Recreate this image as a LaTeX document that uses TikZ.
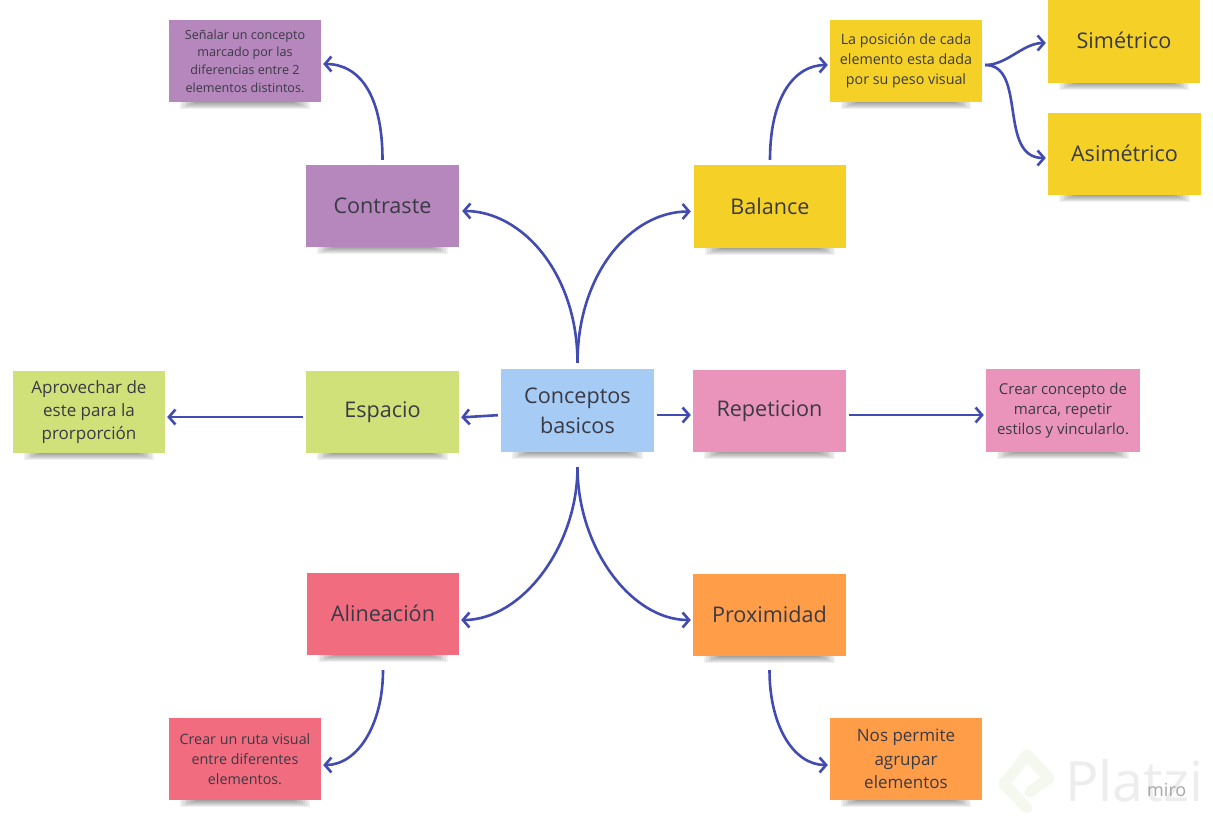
\documentclass[tikz,border=0pt]{standalone}
\usepackage{fontspec}
\setmainfont{Open Sans}
\usetikzlibrary{arrows.meta}
\definecolor{cpurple}{HTML}{B587BC}
\definecolor{cyellow}{HTML}{F5D128}
\definecolor{cgreen}{HTML}{D0E17A}
\definecolor{cblue}{HTML}{A6CCF6}
\definecolor{cpink}{HTML}{EA94BB}
\definecolor{cred}{HTML}{F16C7F}
\definecolor{corange}{HTML}{FF9D48}
\definecolor{cline}{HTML}{414BB2}
\definecolor{ctext}{HTML}{3A3A45}
\definecolor{cmark}{HTML}{F5F8EE}
\tikzset{
  sticky/.style={inner sep=0pt,text=ctext,align=center},
  big/.style={font=\fontsize{21.6}{29}\selectfont},
  mid/.style={font=\fontsize{17}{23}\selectfont},
  smalla/.style={font=\fontsize{12.6}{17.6}\selectfont},
  smallb/.style={font=\fontsize{14.3}{19.8}\selectfont},
  smallc/.style={font=\fontsize{15}{20}\selectfont},
  conn/.style={draw=cline,line width=2.6pt,-{Straight Barb[length=6.5pt,width=15pt,line width=2.6pt]},shorten >=2pt,shorten <=5pt},
}
% name, x0, y0, x1, y1, colour, size style, text
\newcommand{\stickynote}[8]{%
  \foreach \i in {1,...,8}{%
    \fill[black,opacity=0.06] ({#2+8+2.6*\i},#5) rectangle ({#4-8-2.6*\i},{#5+8-\i});
  }%
  \node[sticky,#7,fill=#6,minimum width={(#4-#2)*1pt},minimum height={(#5-#3)*1pt}] (#1) at ({(#2+#4)/2},{(#3+#5)/2}) {#8};
}
\begin{document}
\begin{tikzpicture}[x=1pt,y=-1pt]
\useasboundingbox (0,0) rectangle (1213,824);
\fill[white] (0,0) rectangle (1213,824);
% watermark
\draw[color=cmark,line width=11pt,line cap=round,line join=round]
  (1027,808) -- (1004,784) -- (1027,755) -- (1049,778) -- (1030,792);
\node[text=black!7,font=\fontsize{55.5}{55.5}\selectfont,anchor=base west,inner sep=0pt] (platzi) at (1065,801) {Platzi};
\node[text=black!35,font=\fontsize{18}{18}\selectfont,anchor=base west,inner sep=0pt] (miro) at (1147,796) {miro};
% notes
\stickynote{center}{501}{369}{654}{452}{cblue}{big}{\raisebox{1pt}{Conceptos}\\basicos}
\stickynote{contraste}{306}{165}{459}{247}{cpurple}{big}{Contraste}
\stickynote{balance}{694}{165}{846}{248}{cyellow}{big}{\raisebox{1pt}{Balance}}
\stickynote{espacio}{306}{371}{459}{453}{cgreen}{big}{Espacio}
\stickynote{repeticion}{693}{370}{846}{452}{cpink}{big}{\raisebox{-1pt}{Repeticion}}
\stickynote{alineacion}{307}{573}{459}{655}{cred}{big}{\raisebox{1pt}{Alineación}}
\stickynote{proximidad}{693}{574}{846}{656}{corange}{big}{\raisebox{1pt}{Proximidad}}
\stickynote{senalar}{169}{20}{321}{102}{cpurple}{smalla}{Señalar un concepto\\marcado por las\\diferencias entre 2\\elementos distintos.}
\stickynote{posicion}{830}{20}{982}{102}{cyellow}{smallb}{La posición de cada\\elemento esta dada\\por su peso visual}
\stickynote{simetrico}{1048}{-1}{1200}{83}{cyellow}{big}{\raisebox{1pt}{Simétrico}}
\stickynote{asimetrico}{1048}{113}{1201}{195}{cyellow}{big}{\raisebox{2pt}{Asimétrico}}
\stickynote{aprovechar}{13}{371}{165}{453}{cgreen}{mid}{Aprovechar de\\este para la\\prorporción}
\stickynote{crearconcepto}{986}{369}{1140}{452}{cpink}{smallc}{Crear concepto de\\marca, repetir\\estilos y vincularlo.}
\stickynote{crearruta}{169}{718}{321}{800}{cred}{smallb}{Crear un ruta visual\\entre diferentes\\elementos.}
\stickynote{permite}{830}{718}{982}{800}{corange}{mid}{\raisebox{1pt}{Nos permite}\\agrupar\\elementos}
% connectors (yshift is in canvas terms: negative moves down the picture)
\draw[conn,shorten <=6pt] (center.north) .. controls +(0,-95) and +(62,0) .. ([yshift=-5pt,xshift=1pt]contraste.east);
\draw[conn,shorten <=6pt] (center.north) .. controls +(0,-95) and +(-62,0) .. ([yshift=-5pt,xshift=-1pt]balance.west);
\draw[conn] (contraste.north) .. controls +(0,-70) and +(38,0) .. ([yshift=-3pt]senalar.east);
\draw[conn] (balance.north) .. controls +(0,-70) and +(-34,0) .. ([yshift=-4pt]posicion.west);
\draw[conn,shorten <=3pt] ([yshift=-4pt]posicion.east) .. controls +(25,0) and +(-25,0) .. ([yshift=-2pt]simetrico.west);
\draw[conn,shorten <=3pt] ([yshift=-4pt]posicion.east) .. controls +(45,0) and +(-50,0) .. ([yshift=-4pt]asimetrico.west);
\draw[conn,shorten <=3pt] ([yshift=-4.5pt]center.west) -- ([yshift=-5.5pt]espacio.east);
\draw[conn,shorten <=3pt] ([yshift=-5pt]espacio.west) -- ([yshift=-5pt]aprovechar.east);
\draw[conn,shorten <=3pt] ([yshift=-4.5pt]center.east) -- ([yshift=-4pt]repeticion.west);
\draw[conn,shorten <=3pt] ([yshift=-4pt]repeticion.east) -- ([yshift=-4.5pt]crearconcepto.west);
\draw[conn,shorten <=15pt] (center.south) .. controls +(0,95) and +(62,0) .. ([yshift=-6pt]alineacion.east);
\draw[conn,shorten <=15pt] (center.south) .. controls +(0,95) and +(-62,0) .. ([yshift=-5pt]proximidad.west);
\draw[conn,shorten <=15pt] (alineacion.south) .. controls +(0,70) and +(36,0) .. ([yshift=-6pt]crearruta.east);
\draw[conn,shorten <=14pt] (proximidad.south) .. controls +(0,70) and +(-36,0) .. ([yshift=-6pt]permite.west);
\end{tikzpicture}
\end{document}
